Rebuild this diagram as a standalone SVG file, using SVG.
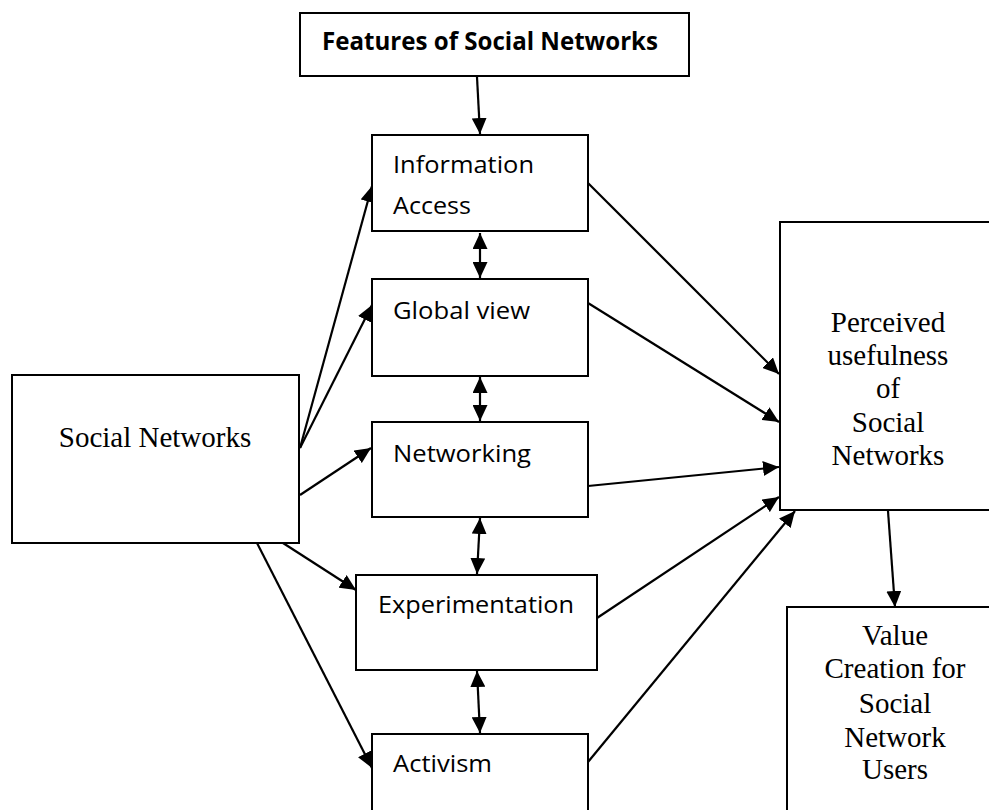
<svg xmlns="http://www.w3.org/2000/svg" width="989" height="810" viewBox="0 0 989 810">
  <style>
    .box { fill: #ffffff; stroke: #000000; stroke-width: 2; }
    .edge { fill: none; stroke: #000000; stroke-width: 2.2; }
    .sans { font-family: "Open Sans", "Noto Sans", "Liberation Sans", sans-serif; font-size: 24px; fill: #000000; }
    .bold { font-weight: bold; font-size: 25px; }
    .serif { font-family: "Liberation Serif", "Times New Roman", serif; font-size: 29px; fill: #000000; text-anchor: middle; }
  </style>
  <defs>
    <marker id="arrow" markerUnits="userSpaceOnUse" markerWidth="16" markerHeight="15" viewBox="0 0 16 15" refX="16" refY="7.5" orient="auto-start-reverse">
      <path d="M0,0 L16,7.5 L0,15 Z" fill="#000000"/>
    </marker>
  </defs>

  <rect width="989" height="810" fill="#ffffff"/>

  <!-- Connectors -->
  <g id="connectors">
    <line class="edge" x1="477" y1="77" x2="480" y2="134" marker-end="url(#arrow)"/>
    <!-- between feature boxes (two-way) -->
    <line class="edge" x1="480" y1="233" x2="480" y2="278" marker-start="url(#arrow)" marker-end="url(#arrow)"/>
    <line class="edge" x1="480" y1="377" x2="480" y2="421" marker-start="url(#arrow)" marker-end="url(#arrow)"/>
    <line class="edge" x1="480" y1="518" x2="477" y2="574" marker-start="url(#arrow)" marker-end="url(#arrow)"/>
    <line class="edge" x1="477" y1="671" x2="480" y2="733" marker-start="url(#arrow)" marker-end="url(#arrow)"/>
    <!-- from Social Networks -->
    <line class="edge" x1="300" y1="448" x2="372" y2="186" marker-end="url(#arrow)"/>
    <line class="edge" x1="300" y1="448" x2="372" y2="305" marker-end="url(#arrow)"/>
    <line class="edge" x1="300" y1="495" x2="371" y2="448" marker-end="url(#arrow)"/>
    <line class="edge" x1="283" y1="543" x2="356" y2="590" marker-end="url(#arrow)"/>
    <line class="edge" x1="257" y1="543" x2="372" y2="768" marker-end="url(#arrow)"/>
    <!-- into Perceived usefulness -->
    <line class="edge" x1="588" y1="183" x2="779" y2="374" marker-end="url(#arrow)"/>
    <line class="edge" x1="588" y1="303" x2="779" y2="422" marker-end="url(#arrow)"/>
    <line class="edge" x1="588" y1="486" x2="779" y2="467" marker-end="url(#arrow)"/>
    <line class="edge" x1="597" y1="618" x2="779" y2="497" marker-end="url(#arrow)"/>
    <line class="edge" x1="588" y1="762" x2="795" y2="511" marker-end="url(#arrow)"/>
    <!-- to Value Creation -->
    <line class="edge" x1="888" y1="511" x2="895" y2="607" marker-end="url(#arrow)"/>
  </g>

  <g id="features">
    <rect class="box" x="300" y="13" width="389" height="63"/>
    <text class="sans bold" x="322" y="50" textLength="336" lengthAdjust="spacingAndGlyphs">Features of Social Networks</text>
  </g>

  <g id="information-access">
    <rect class="box" x="372" y="135" width="216" height="96"/>
    <text class="sans" x="393" y="173" textLength="141" lengthAdjust="spacingAndGlyphs">Information</text>
    <text class="sans" x="393" y="214" textLength="78" lengthAdjust="spacingAndGlyphs">Access</text>
  </g>

  <g id="global-view">
    <rect class="box" x="372" y="279" width="216" height="97"/>
    <text class="sans" x="393" y="319" textLength="137" lengthAdjust="spacingAndGlyphs">Global view</text>
  </g>

  <g id="networking">
    <rect class="box" x="372" y="422" width="216" height="95"/>
    <text class="sans" x="393" y="462" textLength="138" lengthAdjust="spacingAndGlyphs">Networking</text>
  </g>

  <g id="experimentation">
    <rect class="box" x="356" y="575" width="241" height="95"/>
    <text class="sans" x="378" y="613" textLength="196" lengthAdjust="spacingAndGlyphs">Experimentation</text>
  </g>

  <g id="activism">
    <rect class="box" x="372" y="734" width="216" height="90"/>
    <text class="sans" x="393" y="772" textLength="99" lengthAdjust="spacingAndGlyphs">Activism</text>
  </g>

  <g id="social-networks">
    <rect class="box" x="12" y="375" width="287" height="168"/>
    <text class="serif" x="155" y="447">Social Networks</text>
  </g>

  <g id="perceived-usefulness">
    <rect class="box" x="780" y="222" width="220" height="288"/>
    <text class="serif" x="888" y="332">Perceived</text>
    <text class="serif" x="888" y="365">usefulness</text>
    <text class="serif" x="888" y="398">of</text>
    <text class="serif" x="888" y="432">Social</text>
    <text class="serif" x="888" y="465">Networks</text>
  </g>

  <g id="value-creation">
    <rect class="box" x="787" y="607" width="213" height="220"/>
    <text class="serif" x="895" y="645">Value</text>
    <text class="serif" x="895" y="678">Creation for</text>
    <text class="serif" x="895" y="713">Social</text>
    <text class="serif" x="895" y="747">Network</text>
    <text class="serif" x="895" y="779">Users</text>
  </g>
</svg>
